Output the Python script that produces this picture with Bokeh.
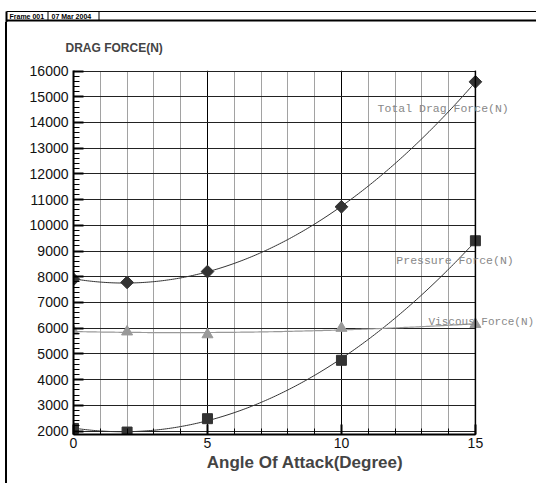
import numpy as np
from bokeh.plotting import figure
from bokeh.layouts import column, row
from bokeh.models import FixedTicker, Range1d, Label, BoxAnnotation, Span, Div
from bokeh.core.properties import value
from bokeh.embed import file_html
from bokeh.resources import INLINE

# ---- data ----
angle = [0, 2, 5, 10, 15]
total_drag = [7900, 7780, 8200, 10720, 15580]
pressure = [2100, 1960, 2480, 4750, 9400]
viscous = [5880, 5860, 5750, 6000, 6150]
x_ticks = [0, 5, 10, 15]
y_ticks = list(range(2000, 16001, 1000))
header_texts = ["Frame 001", "07 Mar 2004"]

W, H = 536, 483
HEAD = 22
STRIP = 7

# ---- header strip (frame box) ----
hd = figure(width=W, height=HEAD, output_backend="svg", toolbar_location=None,
            x_axis_type=None, y_axis_type=None, x_range=Range1d(0, W),
            y_range=Range1d(HEAD, 0), min_border=0)
hd.outline_line_color = None
hd.grid.visible = False
hd.segment(x0=[6, 6], y0=[11, 20], x1=[W, W], y1=[11, 20],
           line_color="black", line_width=[1, 2])
hd.segment(x0=[6, 47.5, 98.5], y0=[11, 11, 11], x1=[6, 47.5, 98.5], y1=[HEAD, 20, 20],
           line_color="black", line_width=[2, 1, 1])
hd.text(x=[9, 51], y=[15.8, 15.8], text=header_texts, text_font=value("Liberation Sans"),
        text_font_style="bold", text_font_size="7px", text_baseline="middle",
        text_color="black")

# ---- left border strip ----
ls = Div(text='<div style="margin-left:5px;width:2px;height:%dpx;background:#000"></div>' % (H - HEAD),
         width=STRIP, height=H - HEAD, margin=0)

# ---- main chart ----
p = figure(width=W - STRIP, height=H - HEAD, output_backend="svg", toolbar_location=None,
           x_range=Range1d(0, 17.28), y_range=Range1d(1865, 16020),
           min_border_left=73 - STRIP, min_border_right=0,
           min_border_top=70 - HEAD, min_border_bottom=49)
p.background_fill_color = "white"
p.border_fill_color = "white"
p.outline_line_color = None

p.title.text = "DRAG FORCE(N)"
p.title.align = "left"
p.title.offset = -8
p.title.standoff = 32
p.title.text_font = "Liberation Sans"
p.title.text_font_style = "bold"
p.title.text_font_size = "12px"

p.xaxis.ticker = FixedTicker(ticks=x_ticks, minor_ticks=list(range(0, 16)))
p.yaxis.ticker = FixedTicker(ticks=y_ticks, minor_ticks=list(range(2000, 16001, 200)))
p.xaxis.bounds = (0, 15)
for ax in (p.xaxis[0], p.yaxis[0]):
    ax.axis_line_width = 2
    ax.axis_line_color = "black"
    ax.major_tick_in = 10
    ax.major_tick_out = 0
    ax.minor_tick_in = 6
    ax.minor_tick_out = 0
    ax.major_tick_line_width = 2
    ax.major_tick_line_color = "black"
    ax.minor_tick_line_color = "black"
    ax.major_label_text_font = "Liberation Sans"
    ax.major_label_text_font_size = "14px"
    ax.major_label_text_color = "#111111"
p.yaxis.major_label_standoff = 5
p.xaxis.major_label_standoff = 3
p.xaxis.axis_label = "Angle Of Attack(Degree)"
p.xaxis.axis_label_text_font = "Liberation Sans"
p.xaxis.axis_label_text_font_style = "bold"
p.xaxis.axis_label_text_font_size = "17px"
p.xaxis.axis_label_standoff = 2

p.ygrid.grid_line_color = "#222222"
p.ygrid.grid_line_width = 1
p.xgrid.grid_line_color = "black"
p.xgrid.grid_line_width = 1
p.xgrid.minor_grid_line_color = "#444444"
p.xgrid.minor_grid_line_dash = "1 1"

# blank the area right of the last angle (outside the reference frame)
p.add_layout(BoxAnnotation(left=15, fill_color="white", fill_alpha=1,
                           line_color=None, level="underlay"))
p.add_layout(Span(location=15, dimension="height", line_color="black", line_width=1.5))

# fitted curves computed from the data
xs = np.linspace(0, 15, 200)
def fit(y):
    c = np.polyfit(angle, y, 2)
    return np.polyval(c, xs)

p.line(xs, fit(total_drag), line_color="#333333", line_width=1)
p.line(xs, fit(pressure), line_color="#333333", line_width=1)
p.line(xs, fit(viscous), line_color="#999999", line_width=1.2)

p.scatter(angle, total_drag, marker="square", size=9, angle=np.pi / 4, color="#333333")
p.scatter(angle, pressure, marker="square", size=10, color="#333333")
p.scatter(angle, viscous, marker="triangle", size=11, color="#999999")

mono = dict(text_font="Liberation Mono", text_font_size="11.5px", text_color="#888888",
            text_baseline="middle")
p.add_layout(Label(x=11.35, y=14560, text="Total Drag Force(N)", **mono))
p.add_layout(Label(x=12.05, y=8620, text="Pressure Force(N)", **mono))
mono["text_font_size"] = "11px"
p.add_layout(Label(x=13.25, y=6250, text="Viscous Force(N)", **mono))

layout = column(hd, row(ls, p, spacing=0), spacing=0)
out = file_html(layout, INLINE)
open("out.html", "w").write(out)
